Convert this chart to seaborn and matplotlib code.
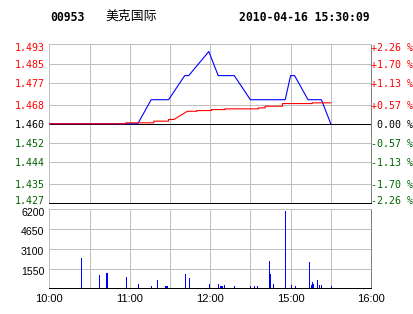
import matplotlib
matplotlib.use("Agg")
import matplotlib.pyplot as plt
import matplotlib.transforms as mtransforms
import numpy as np
import pandas as pd
import seaborn as sns

# ---------------- data ----------------
stock_code = "00953"
stock_name = "美克国际"
timestamp = "2010-04-16 15:30:09"

prev_close = 1.460
price_levels = [1.493, 1.485, 1.477, 1.468, 1.460, 1.452, 1.444, 1.435, 1.427]
price_labels = ["1.493", "1.485", "1.477", "1.468", "1.460", "1.452", "1.444", "1.435", "1.427"]
pct_labels = ["+2.26 %", "+1.70 %", "+1.13 %", "+0.57 %", " 0.00 %",
              "-0.57 %", "-1.13 %", "-1.70 %", "-2.26 %"]

# trading minutes since 10:00 (lunch break removed), 240 = 16:00
price_minutes = [0, 66, 76, 89, 101, 104, 119, 126, 138, 150, 176, 180, 183, 193, 203, 210]
price_values = [1.460, 1.460, 1.470, 1.470, 1.480, 1.480, 1.490, 1.480, 1.480,
                1.470, 1.470, 1.480, 1.480, 1.470, 1.470, 1.460]

avg_minutes = [0, 57, 57, 78, 78, 89, 89, 93, 103, 110, 110, 121, 121, 131, 131,
               156, 156, 161, 161, 174, 174, 196, 196, 210]
avg_values = [1.4600, 1.4600, 1.4604, 1.4604, 1.4611, 1.4611, 1.4618, 1.4618, 1.4652,
              1.4652, 1.4655, 1.4655, 1.4659, 1.4659, 1.4662, 1.4662, 1.4666, 1.4666,
              1.4673, 1.4673, 1.4684, 1.4684, 1.4687, 1.4687]

vol_minutes = [24, 37, 42, 43, 57, 66, 76, 80, 86, 87, 88, 101, 104, 119, 126, 127, 128,
               129, 130, 138, 150, 153, 155, 164, 165, 167, 176, 180, 183, 194, 195, 196,
               197, 200, 201, 203, 210]
vol_values = [2380, 1046, 1203, 1203, 889, 340, 183, 654, 183, 183, 183, 1125, 811, 360,
              300, 210, 210, 210, 260, 183, 183, 183, 183, 2145, 1125, 340, 6069, 262, 183,
              2067, 262, 497, 340, 654, 262, 262, 183]

vol_levels = [6200, 4650, 3100, 1550]
vol_labels = ["6200", "4650", "3100", "1550"]

time_ticks = [0, 60, 120, 180, 240]
time_labels = ["10:00", "11:00", "12:00", "15:00", "16:00"]
grid_minutes = [30, 60, 90, 120, 150, 180, 210]

# ---------------- figure ----------------
W, H = 414, 314
fig = plt.figure(figsize=(W / 100, H / 100), dpi=100)
fig.patch.set_facecolor("white")

L, R = 49.3, 371.0
PT, PB = 44.3, 203.3
VT, VB = 209.3, 288.3
ax_p = fig.add_axes([L / W, 1 - PB / H, (R - L) / W, (PB - PT) / H])
ax_v = fig.add_axes([L / W, 1 - VB / H, (R - L) / W, (VB - VT) / H])

PX = 0.72  # 1 pixel in points
GRID = "#c0c0c0"
RED = "#ff0000"
GREEN = "#006400"
BLUE = "#0000ff"

for ax in (ax_p, ax_v):
    ax.set_xlim(0, 240)
    ax.set_xticks([])
    ax.set_yticks([])
    ax.set_facecolor("white")
    ax.spines["top"].set_color(GRID)
    ax.spines["left"].set_color(GRID)
    ax.spines["right"].set_color("#808080")
    ax.spines["bottom"].set_color("black")
    for s in ax.spines.values():
        s.set_linewidth(PX)
    for m in grid_minutes:
        ax.axvline(m, color=GRID, lw=PX, zorder=1)

ax_p.set_ylim(prev_close - 0.033, prev_close + 0.033)
for lv in price_levels[1:-1]:
    if abs(lv - prev_close) < 1e-9:
        continue
    ax_p.axhline(lv, color=GRID, lw=PX, zorder=1)
ax_p.axhline(prev_close, color="black", lw=PX, zorder=2)

price_df = pd.DataFrame({"minute": price_minutes, "price": price_values})
avg_df = pd.DataFrame({"minute": avg_minutes, "avg": avg_values})
sns.lineplot(data=price_df, x="minute", y="price", ax=ax_p, color=BLUE,
             linewidth=0.8, estimator=None, sort=False, zorder=3)
sns.lineplot(data=avg_df, x="minute", y="avg", ax=ax_p, color=RED,
             linewidth=0.8, estimator=None, sort=False, zorder=4)
ax_p.set_xlabel("")
ax_p.set_ylabel("")
ax_p.set_xticks([])
ax_p.set_yticks([])

# price labels (left) and percent labels (right)
mono = "DejaVu Sans Mono"
n = len(price_levels)
base = mtransforms.blended_transform_factory(ax_p.transAxes, ax_p.transData)
for i, (lv, lab, pl) in enumerate(zip(price_levels, price_labels, pct_labels)):
    if i == 0:
        dy = -6.4
    elif i == n - 1:
        dy = -0.7
    else:
        dy = -4.1
    if lv > prev_close + 1e-9:
        col = RED
    elif lv < prev_close - 1e-9:
        col = GREEN
    else:
        col = "black"
    tl = mtransforms.offset_copy(base, fig=fig, x=-5, y=dy, units="dots")
    tr = mtransforms.offset_copy(base, fig=fig, x=0.5, y=dy, units="dots")
    ax_p.text(0, lv, lab, transform=tl, ha="right", va="baseline",
              fontsize=7.2, family=mono, color=col, clip_on=False)
    ax_p.text(1, lv, pl, transform=tr, ha="left", va="baseline",
              fontsize=7.2, family=mono, color=col, clip_on=False)

# volume
ax_v.set_ylim(0, 6200)
for lv in vol_levels[1:]:
    ax_v.axhline(lv, color=GRID, lw=PX, zorder=1)
ax_v.vlines(vol_minutes, 0, vol_values, color=BLUE, lw=PX, zorder=3,
            antialiased=False)

vbase = mtransforms.blended_transform_factory(ax_v.transAxes, ax_v.transData)
for lv, lab in zip(vol_levels, vol_labels):
    tv = mtransforms.offset_copy(vbase, fig=fig, x=-5, y=-6.2, units="dots")
    ax_v.text(0, lv, lab, transform=tv, ha="right", va="baseline",
              fontsize=7.6, family="Liberation Sans", color="black", clip_on=False)

tbase = mtransforms.blended_transform_factory(ax_v.transData, ax_v.transAxes)
tt = mtransforms.offset_copy(tbase, fig=fig, x=0, y=-13.7, units="dots")
for m, lab in zip(time_ticks, time_labels):
    ax_v.text(m, 0, lab, transform=tt, ha="center", va="baseline",
              fontsize=8, family="Liberation Sans", color="black", clip_on=False)

# header
fig.text(50 / W, 1 - 20.7 / H, stock_code, ha="left", va="baseline",
         fontsize=8.3, family=mono, fontweight="bold")
fig.text(105 / W, 1 - 19.3 / H, stock_name, ha="left", va="baseline",
         fontsize=9.3, family=["Noto Sans CJK SC", "DejaVu Sans"])
fig.text(370 / W, 1 - 20.7 / H, timestamp, ha="right", va="baseline",
         fontsize=8.3, family=mono, fontweight="bold")

fig.savefig("out.png", dpi=100, facecolor="white")
